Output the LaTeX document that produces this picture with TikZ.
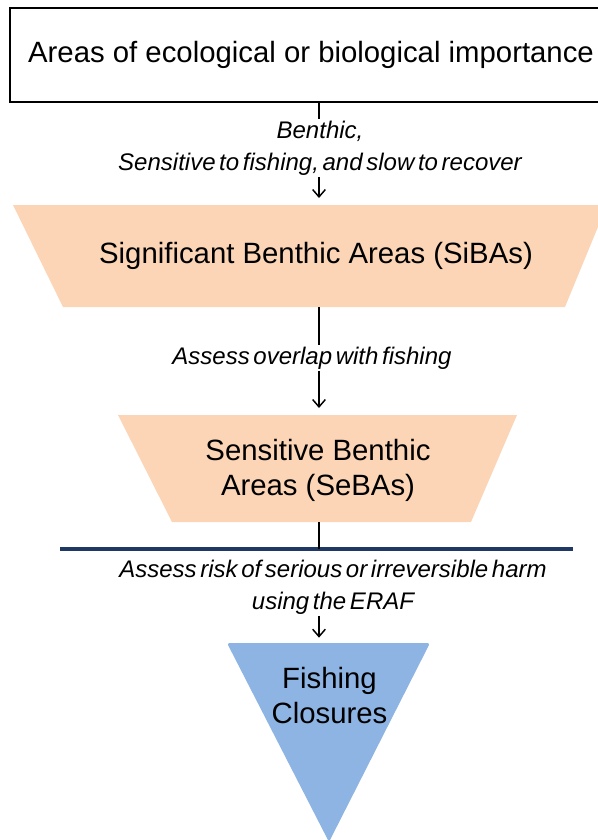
\documentclass[tikz,border=0pt]{standalone}
\usepackage{fontspec}
\setmainfont{Liberation Sans}
\newfontfamily\notefont[WordSpace=0.55]{Liberation Sans}
\usetikzlibrary{arrows.meta}

\definecolor{peach}{HTML}{FBD5B5}
\definecolor{closure}{HTML}{8DB4E2}
\definecolor{navy}{HTML}{1F3864}

\begin{document}
\begin{tikzpicture}[x=0.75pt,y=-0.75pt]

    \tikzset{
      label/.style={
        align=center,
        inner sep=0pt,
        font=\fontsize{22}{26.4}\selectfont,
      },
      note/.style={
        align=center,
        inner sep=1pt,
        font=\notefont\itshape\fontsize{18}{24}\selectfont,
      },
      link/.style={line width=1.1pt},
      linkarrow/.style={line width=1.1pt,-{Straight Barb[length=5.5pt,width=9.5pt]}},
    }
    \useasboundingbox (0,0) rectangle (598,840);
    \clip (0,0) rectangle (598,840);
    \coordinate (spine) at (319,0);

    % top box
    \node[draw,line width=1.3pt,minimum width=451.5pt,minimum height=70.5pt,label] (eco) at (311,55)
      {Areas of ecological or biological importance};
    \node[note] (benthic) at (320,148) {Benthic,\\Sensitive to fishing, and slow to recover};

    % funnel
    \coordinate (siba nw) at (13,205);
    \coordinate (siba ne) at (607,205);
    \coordinate (siba se) at (565,307);
    \coordinate (siba sw) at (63,307);
    \fill[peach] (siba nw) -- (siba ne) -- (siba se) -- (siba sw) -- cycle;
    \node[label] (siba) at (316,256) {Significant Benthic Areas (SiBAs)};
    \node[note] (overlap) at (312,358) {Assess overlap with fishing};

    \coordinate (seba nw) at (118,415);
    \coordinate (seba ne) at (517,415);
    \coordinate (seba se) at (471,522);
    \coordinate (seba sw) at (172,522);
    \fill[peach] (seba nw) -- (seba ne) -- (seba se) -- (seba sw) -- cycle;
    \node[label] (seba) at (318,470) {Sensitive Benthic\\Areas (SeBAs)};

    \coordinate (barL) at (60,549);
    \coordinate (barR) at (573,549);
    \draw[navy,line width=2.6pt] (barL) -- (barR);
    \node[note] (risk) at (333,587) {Assess risk of serious or irreversible harm\\using the ERAF};

    % closures
    \coordinate (fc nw) at (227,643);
    \coordinate (fc ne) at (430,643);
    \coordinate (fc tip) at (329,842);
    \fill[closure,rounded corners=2pt] (fc nw) -- (fc ne) -- (fc tip) -- cycle;
    \node[label] (fc) at (329.5,695.5) {Fishing\\Closures};

    % connectors
    \draw[link] (spine |- eco.south) -- (spine |- benthic.north);
    \draw[linkarrow,shorten >=5.25pt] (spine |- benthic.south) -- (spine |- siba nw);
    \draw[link] (spine |- siba sw) -- (spine |- overlap.north);
    \draw[linkarrow,shorten >=5.25pt] (spine |- overlap.south) -- (spine |- seba nw);
    \draw[link] (spine |- seba sw) -- (spine |- barL);
    \draw[linkarrow,shorten >=4pt] (spine |- risk.south) -- (spine |- fc nw);

\end{tikzpicture}
\end{document}
